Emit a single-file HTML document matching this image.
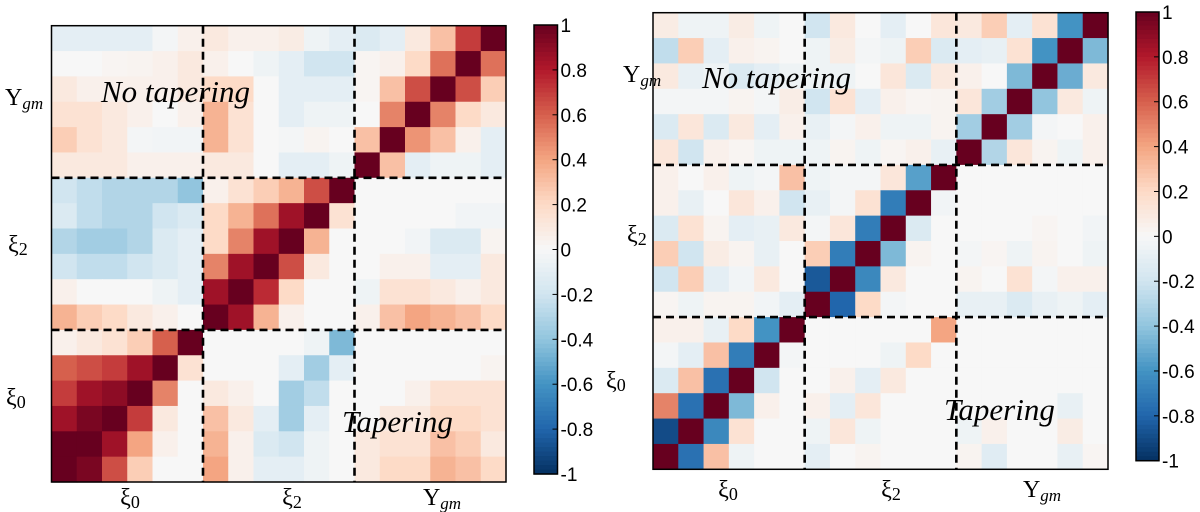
<!DOCTYPE html>
<html><head><meta charset="utf-8">
<style>
html,body{margin:0;padding:0;background:#fff;}
svg{display:block;font-family:"Liberation Serif",serif;}
</style></head>
<body>
<svg id="chart" width="1200" height="512" viewBox="0 0 1200 512" xmlns="http://www.w3.org/2000/svg"></svg>
<script>
// ---- data ----
const blockLabels = ["ξ0", "ξ2", "Υgm"];
const colorbarTicks = [1, 0.8, 0.6, 0.4, 0.2, 0, -0.2, -0.4, -0.6, -0.8, -1];
const leftTitle = "No tapering";
const leftTitle2 = "Tapering";
const leftMatrix = [
[-0.1,-0.1,-0.1,-0.1,-0.02,0.05, 0.1,0.05,0.05,0.08,-0.05,-0.1, -0.15,-0.1,0.1,0.3,0.7,1],
[0,0,0.02,0.03,0.05,0.1, 0.05,0,-0.05,-0.1,-0.2,-0.2, 0.02,0.05,0.2,0.55,1,0.55],
[0.1,0.05,0.05,0.05,0.05,0.1, 0.2,0.2,0,-0.1,-0.1,-0.1, 0.02,0.3,0.65,1,0.65,0.25],
[0.15,0.15,0.1,0.05,0,0.05, 0.35,0.15,0,-0.1,-0.05,-0.05, 0,0.5,1,0.5,0.2,0.1],
[0.25,0.15,0.1,-0.02,-0.03,-0.03, 0.35,0.15,0,-0.02,0.03,0, 0.3,1,0.45,0.3,0.05,-0.1],
[0.1,0.1,0.1,0.05,0.05,0.05, 0.1,0.1,0,-0.1,-0.1,-0.05, 1,0.3,-0.1,-0.05,-0.05,-0.1],
[-0.2,-0.25,-0.3,-0.3,-0.3,-0.4, 0.05,0.15,0.25,0.35,0.65,1, 0,0,0,0,0,0],
[-0.15,-0.25,-0.3,-0.3,-0.2,-0.15, 0.2,0.35,0.55,0.85,1,0.15, 0,0,0,0,-0.03,-0.03],
[-0.3,-0.35,-0.35,-0.3,-0.15,-0.1, 0.2,0.5,0.85,1,0.35,0, 0,0,-0.03,-0.15,-0.15,0.03],
[-0.2,-0.25,-0.25,-0.2,-0.15,-0.1, 0.5,0.85,1,0.65,0.1,0, 0,0.05,0.05,-0.1,-0.1,0.1],
[0.05,0,0,0,-0.05,-0.1, 0.85,1,0.75,0.2,0,0, -0.05,0.15,0.15,0.1,0.05,0.1],
[0.35,0.25,0.2,0.1,0.05,0, 1,0.85,0.35,0.05,0,0, 0.05,0.3,0.4,0.35,0.3,0.2],
[0.05,0.1,0.15,0.25,0.6,1, 0,0,0,0,-0.05,-0.45, 0,0,0,0,0,0],
[0.6,0.65,0.7,0.85,1,0.15, 0,0,0,-0.1,-0.35,-0.1, 0,0,0,0,0,0.03],
[0.7,0.85,0.9,1,0.5,0, 0.1,0.05,0,-0.35,-0.25,0, 0,0,0.05,0.15,0.15,0.15],
[0.85,0.95,1,0.7,0.1,0, 0.3,0.1,-0.1,-0.35,-0.1,0, 0,0.1,0.1,0.2,0.2,0.15],
[1,1,0.85,0.4,0.05,0, 0.35,0.05,-0.15,-0.2,-0.05,0, 0.1,0.15,0.15,0.3,0.25,0.1],
[1,0.95,0.65,0.25,0,0, 0.4,0.05,-0.1,-0.1,-0.05,0, 0.1,0.2,0.2,0.35,0.3,0.2]
];
const rightMatrix = [
[0.08,-0.05,-0.05,0.08,-0.05,0, -0.2,0.1,0,-0.1,0,0.12, 0.1,0.25,-0.1,0.15,-0.6,1],
[-0.25,0.25,-0.1,0.05,0.03,0, -0.05,0.08,-0.02,-0.05,0.25,-0.15, -0.1,-0.08,0.15,-0.6,1,-0.45],
[0.1,-0.08,-0.05,-0.15,-0.1,-0.05, -0.05,-0.05,0,0.12,-0.15,0.1, 0.05,0,-0.45,1,-0.5,0.1],
[-0.02,-0.02,-0.02,0.03,-0.02,0.07, -0.2,0.15,-0.1,0.05,0.02,0.03, 0.12,-0.35,1,-0.4,0.1,-0.05],
[-0.15,0.12,-0.15,0.1,-0.1,0.05, -0.08,-0.02,0.05,-0.05,-0.05,0.03, -0.35,1,-0.35,-0.02,0,0.05],
[0.12,-0.2,0.05,0.02,-0.05,-0.05, -0.05,0.03,-0.05,0.02,0.05,-0.08, 1,-0.3,0.12,0.03,-0.05,0.05],
[0.05,0,0.05,-0.05,-0.02,0.3, -0.05,-0.02,-0.02,0.12,-0.55,1, 0,0,0,0,0,0],
[0.05,-0.08,0,0.12,0.05,-0.2, -0.08,-0.02,0.15,-0.7,1,-0.03, 0,0,0,0,0,0],
[-0.15,0.15,0.03,-0.1,-0.08,0.1, -0.02,0.12,-0.7,1,-0.15,0, 0,0,0,0.02,0,-0.03],
[0.25,-0.2,0.08,0.03,-0.08,0, 0.25,-0.7,1,-0.45,0.03,0, -0.02,0.02,-0.05,0.03,0,-0.05],
[-0.2,0.25,-0.1,-0.03,0.1,0, -0.85,1,-0.65,0.1,0,0, 0.03,0,0.15,-0.02,0.05,0.05],
[0.02,-0.05,0.03,0.03,-0.03,-0.1, 1,-0.8,0.2,-0.02,0,0, -0.08,-0.08,-0.15,-0.08,-0.05,-0.1],
[0.05,0.05,-0.08,0.2,-0.6,1, 0,0,0,0,0,0.4, 0,0,0,0,0,0],
[-0.02,-0.1,0.3,-0.7,1,-0.02, 0,0,0,-0.05,0.2,0, 0,0,0,0,0,0],
[-0.15,0.3,-0.75,1,-0.2,0, 0,0.05,-0.1,0.1,0,0, 0,0,0,0,0,0],
[0.5,-0.75,1,-0.45,0.05,0, 0.05,-0.1,0.12,0,0,0, 0,0,0,0,-0.08,0],
[-0.9,1,-0.65,0.15,0,0, -0.05,0.12,-0.05,0,0,0, -0.05,0.05,0,0,0.08,0],
[1,-0.75,0.3,-0.05,0,0, -0.1,0,0.03,0,0,0, 0.03,-0.12,0,0,-0.08,0.02]
];

// ---- colormap RdBu_r ----
const stops = ["#053061","#2166ac","#4393c3","#92c5de","#d1e5f0","#f7f7f7","#fddbc7","#f4a582","#d6604d","#b2182b","#67001f"];
function hex(h){return [parseInt(h.substr(1,2),16),parseInt(h.substr(3,2),16),parseInt(h.substr(5,2),16)];}
function cmap(v){
  v=Math.max(-1,Math.min(1,v));
  const t=(v+1)/2*10; const i=Math.min(9,Math.floor(t)); const f=t-i;
  const a=hex(stops[i]), b=hex(stops[i+1]);
  return "rgb("+a.map((c,k)=>Math.round(c+(b[k]-c)*f)).join(",")+")";
}
const NS="http://www.w3.org/2000/svg";
const svg=document.getElementById("chart");
function mk(tag,attrs,parent){const e=document.createElementNS(NS,tag);for(const k in attrs)e.setAttribute(k,attrs[k]);(parent||svg).appendChild(e);return e;}

function labelText(parent,x,y,main,anchor){
  const t=mk("text",{x:x,y:y,"font-size":24,"text-anchor":anchor||"middle",fill:"#000"},parent);
  if(main==="Υgm"){
    t.appendChild(document.createTextNode("Υ"));
    const s=mk("tspan",{"font-size":17,"font-style":"italic",dy:4},t);s.textContent="gm";
  } else {
    t.appendChild(document.createTextNode("ξ"));
    const s=mk("tspan",{"font-size":18,dy:3},t);s.textContent=main.substr(1);
  }
  return t;
}

function drawPanel(name,matrix,x0,y0,w,h,cb,labelsY,labelsX,ann){
  const g=mk("g",{});
  
  
  const n=matrix.length;
  const cw=w/n, ch=h/n;
  const xs=c=>x0+c*cw, ys=r=>y0+r*ch;
  matrix.forEach((row,r)=>row.forEach((v,c)=>{
    const rect=mk("rect",{x:xs(c),y:ys(r),width:cw+0.6,height:ch+0.6,fill:cmap(v)},g);
    
    
  }));
  [6,12].forEach(k=>{
    const lv=mk("line",{x1:xs(k),y1:y0,x2:xs(k),y2:y0+h,stroke:"#000","stroke-width":2.6,"stroke-dasharray":"8,5"},g);
    
    
    const lh=mk("line",{x1:x0,y1:ys(k),x2:x0+w,y2:ys(k),stroke:"#000","stroke-width":2.6,"stroke-dasharray":"8,5"},g);
    
    
  });
  const fr=mk("rect",{x:x0,y:y0,width:w,height:h,fill:"none",stroke:"#000","stroke-width":1.5},g);
  
  
  ann.forEach(a=>{
    const t=mk("text",{x:a.x,y:a.y,"font-size":31,"font-style":"italic",fill:"#000"},g);
    t.textContent=a.text;
    
    
  });
  labelsY.forEach((p,i)=>{
    const t=labelText(g,p.x,p.y,blockLabels[2-i],"start");
    
    
  });
  labelsX.forEach((p,i)=>{
    const t=labelText(g,p.x,p.y,blockLabels[i],"middle");
    
    
  });
  const cg=mk("g",{});
  
  
  const steps=100;
  for(let i=0;i<steps;i++){
    const v=1-2*(i+0.5)/steps;
    mk("rect",{x:cb.x,y:cb.y+i*cb.h/steps,width:cb.w,height:cb.h/steps+0.6,fill:cmap(v)},cg);
  }
  mk("rect",{x:cb.x,y:cb.y,width:cb.w,height:cb.h,fill:"none",stroke:"#000","stroke-width":1.5},cg);
  colorbarTicks.forEach(v=>{
    const y=cb.y+(1-v)/2*cb.h;
    mk("line",{x1:cb.x+cb.w-5,y1:y,x2:cb.x+cb.w,y2:y,stroke:"#000","stroke-width":1},cg);
    const t=mk("text",{x:cb.x+cb.w+3,y:y+7,"font-size":19,fill:"#000","font-family":"Liberation Sans, sans-serif"},cg);
    t.textContent=String(v);
    
    
  });
}

drawPanel("left-heatmap-panel",leftMatrix,51.5,25.7,454.5,456.3,
  {x:534,y:25,w:23.5,h:449},
  [{x:5,y:105},{x:8,y:252},{x:6,y:405}],
  [{x:130,y:505},{x:292,y:505},{x:442,y:505}],
  [{text:leftTitle,x:101,y:102,name:"no-tapering-annotation"},{text:leftTitle2,x:342,y:432,name:"tapering-annotation"}]);

drawPanel("right-heatmap-panel",rightMatrix,653,12.7,455,456.6,
  {x:1136,y:12,w:23,h:448.7},
  [{x:623,y:82},{x:627,y:242},{x:606,y:388}],
  [{x:728,y:497},{x:891,y:497},{x:1042,y:497}],
  [{text:leftTitle,x:702,y:88,name:"no-tapering-annotation"},{text:leftTitle2,x:944,y:420,name:"tapering-annotation"}]);
</script>
</body></html>
